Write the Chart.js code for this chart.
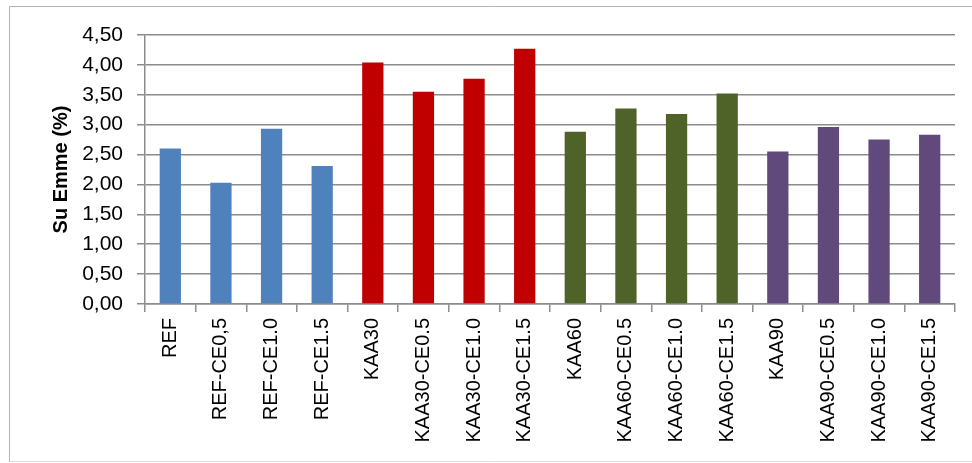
<!DOCTYPE html>
<html>
<head>
<meta charset="utf-8">
<script src="https://cdn.jsdelivr.net/npm/chart.js@4.4.0/dist/chart.umd.min.js"></script>
<style>
    html, body { margin: 0; padding: 0; background: #fff; }
    #wrap { position: relative; width: 972px; height: 463px; }
</style>
</head>
<body>
<div id="wrap"><canvas id="chart" width="972" height="463"></canvas></div>
<script>
// sample names along the x axis
const categories = [
    'REF', 'REF-CE0,5', 'REF-CE1.0', 'REF-CE1.5',
    'KAA30', 'KAA30-CE0.5', 'KAA30-CE1.0', 'KAA30-CE1.5',
    'KAA60', 'KAA60-CE0.5', 'KAA60-CE1.0', 'KAA60-CE1.5',
    'KAA90', 'KAA90-CE0.5', 'KAA90-CE1.0', 'KAA90-CE1.5'
];

// water absorption (%)
const waterAbsorption = [
    2.60, 2.03, 2.93, 2.31,
    4.04, 3.55, 3.77, 4.27,
    2.88, 3.27, 3.18, 3.52,
    2.55, 2.96, 2.75, 2.83
];

// one colour per group of four
const groupColors = ['#4F81BD', '#C00000', '#4F6228', '#604A7B'];
const barColors = categories.map((c, i) => groupColors[Math.floor(i / 4)]);

const yMin = 0;
const yMax = 4.5;
const yStep = 0.5;

const FONT = "'Liberation Sans', Arial, sans-serif";

// light frame around the chart, like the spreadsheet chart box
const framePlugin = {
    id: 'frame',
    beforeDraw(chart) {
        const ctx = chart.ctx;
        ctx.save();
        ctx.strokeStyle = '#b4b4b4';
        ctx.lineWidth = 1;
        ctx.beginPath();
        ctx.moveTo(9.5, 462);
        ctx.lineTo(9.5, 6.5);
        ctx.lineTo(972, 6.5);
        ctx.stroke();
        ctx.strokeStyle = '#dedede';
        ctx.beginPath();
        ctx.moveTo(9.5, 461.5);
        ctx.lineTo(972, 461.5);
        ctx.stroke();
        ctx.restore();
    }
};

new Chart(document.getElementById('chart'), {
    type: 'bar',
    data: {
        labels: categories,
        datasets: [{
            label: 'Su Emme (%)',
            data: waterAbsorption,
            backgroundColor: barColors,
            borderWidth: 0,
            barPercentage: 0.42,
            categoryPercentage: 1.0
        }]
    },
    options: {
        responsive: false,
        animation: false,
        layout: { padding: { top: 35, right: 17, bottom: 0, left: 49 } },
        plugins: {
            legend: { display: false },
            tooltip: { enabled: false }
        },
        scales: {
            x: {
                grid: {
                    display: true,
                    drawOnChartArea: false,
                    drawTicks: true,
                    tickLength: 8,
                    offset: true,
                    color: '#8c8c8c',
                    lineWidth: 1.5
                },
                border: { display: true, color: '#8c8c8c', width: 1.5 },
                ticks: {
                    color: '#000',
                    font: { family: FONT, size: 20 },
                    minRotation: 90,
                    maxRotation: 90,
                    autoSkip: false,
                    padding: 6
                },
                afterFit(scale) { scale.height = 159; }
            },
            y: {
                min: yMin,
                max: yMax,
                ticks: {
                    stepSize: yStep,
                    color: '#000',
                    font: { family: FONT, size: 21 },
                    padding: 14,
                    callback: v => v.toFixed(2).replace('.', ',')
                },
                grid: {
                    color: '#8c8c8c',
                    lineWidth: 1.5,
                    tickLength: 8
                },
                border: { display: true, color: '#8c8c8c', width: 1.5 },
                title: {
                    display: true,
                    text: 'Su Emme (%)',
                    color: '#000',
                    font: { family: FONT, size: 20, weight: 'bold' },
                    padding: { top: 0, bottom: 4 }
                },
                afterFit(scale) { scale.width = 96; }
            }
        }
    },
    plugins: [framePlugin]
});
</script>
</body>
</html>
